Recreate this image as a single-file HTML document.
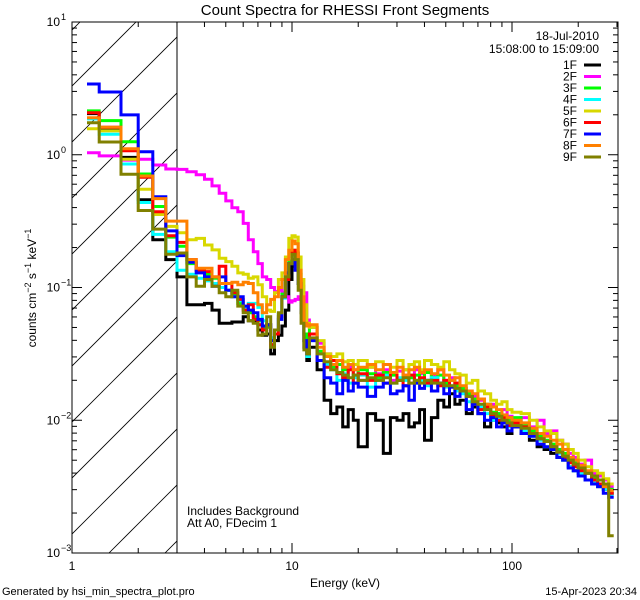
<!DOCTYPE html>
<html><head><meta charset="utf-8"><style>
body{margin:0;background:#fff;}
svg{display:block;font-family:"Liberation Sans",sans-serif;}
</style></head><body>
<svg id="chart" width="640" height="600" viewBox="0 0 640 600">
<defs><clipPath id="plotclip"><rect x="72" y="22" width="546" height="531"/></clipPath>
<clipPath id="hatchclip"><rect x="72" y="22" width="105" height="531"/></clipPath></defs>
<text x="345" y="15" text-anchor="middle" font-size="15">Count Spectra for RHESSI Front Segments</text>
<g id="hatch" clip-path="url(#hatchclip)"></g>
<line x1="177" y1="22" x2="177" y2="553" stroke="#000" stroke-width="1"/>
<g id="series" clip-path="url(#plotclip)"></g>
<rect x="72" y="22" width="546" height="531" fill="none" stroke="#000" stroke-width="1"/>
<g id="axes"></g>
<g id="legend"></g>
<text x="187" y="515" font-size="12">Includes Background</text>
<text x="187" y="527" font-size="12">Att A0, FDecim 1</text>
<text x="345" y="587" text-anchor="middle" font-size="12">Energy (keV)</text>
<text transform="translate(36,288) rotate(-90)" text-anchor="middle" font-size="12">counts cm<tspan dy="-5" font-size="9">−2</tspan><tspan dy="5"> s</tspan><tspan dy="-5" font-size="9">−1</tspan><tspan dy="5"> keV</tspan><tspan dy="-5" font-size="9">−1</tspan></text>
<text x="2" y="595" font-size="11">Generated by hsi_min_spectra_plot.pro</text>
<text x="637" y="595" text-anchor="end" font-size="11">15-Apr-2023 20:34</text>
</svg>
<script>
// Energy bin edges (keV)
const edges = [1.17,1.33,1.67,2.0,2.33,2.67,3.0,3.33,3.67,4.0,4.33,4.67,5.0,5.33,5.67,6.0,6.33,6.67,7.0,7.33,7.67,8.0,8.33,8.67,9.0,9.33,9.67,10.0,10.33,10.67,11.0,11.33,11.67,12.0,
13,14,15,16,17,18,19,20,22,24,26,28,30,32,34,36,38,40,43,46,49,52,55,58,62,66,70,75,80,85,90,95,100,110,120,130,140,150,160,170,180,190,200,215,230,245,260,275,290];
const seriesNames = ["1F","2F","3F","4F","5F","6F","7F","8F","9F"];
const seriesColors = ["#000000","#ff00ff","#00ff00","#00ffff","#d8d800","#ff0000","#0000ff","#ff8000","#808000"];
// log10 of counts per bin
const s1F = [.31,.20,-.02,-.339,-.64,-.79,
-.92,-1.13,-1.13,-1.12,-1.17,-1.27,-1.27,-1.26,-1.26,-1.22,-1.25,-1.26,-1.32,-1.36,-1.35,-1.50,-1.40,-1.36,-1.29,-1.17,-.94,-.79,-.84,-.97,-1.19,-1.45,-1.55,
-1.45,-1.62,-1.85,-1.95,-1.90,-2.05,-1.92,-2.00,-2.20,-1.95,
-2.00,-2.25,-1.98,-2.00,-1.95,-2.05,-2.02,-1.92,-2.15,-1.98,
-1.85,-1.90,-1.80,-1.88,-1.85,-1.95,-1.90,-1.95,-2.05,-2.00,
-2.02,-2.05,-2.10,-2.05,-2.10,-2.15,-2.20,-2.22,-2.25,-2.28,
-2.30,-2.35,-2.38,-2.40,-2.45,-2.47,-2.50,-2.52,-2.55];
const s2F = [.015,-.009,-.04,-.034,-.077,-.107,
-.11,-.128,-.15,-.185,-.235,-.29,-.348,-.40,-.43,-.517,-.64,-.73,-.82,-.92,-.94,-1.0,-1.03,-1.02,-1.04,-1.07,-1.11,-1.10,-1.09,-1.07,-.99,-1.04,-1.245,
-1.30,-1.42,-1.50,-1.55,-1.58,-1.66,-1.60,-1.62,-1.70,-1.60,
-1.65,-1.62,-1.70,-1.63,-1.66,-1.72,-1.62,-1.65,-1.70,-1.66,
-1.62,-1.70,-1.68,-1.72,-1.76,-1.80,-1.82,-1.85,-1.90,-1.88,
-1.95,-1.92,-1.97,-2.00,-1.98,-2.05,-2.00,-2.10,-2.08,-2.15,
-2.18,-2.25,-2.28,-2.33,-2.30,-2.40,-2.42,-2.45,-2.50];
const s3F = [.33,.257,.098,-.145,-.39,-.62,
-.69,-.82,-.87,-.90,-.93,-.97,-1.02,-1.06,-1.12,-1.15,-1.19,-1.22,-1.25,-1.30,-1.30,-1.38,-1.32,-1.20,-1.05,-.90,-.80,-.72,-.74,-.90,-1.10,-1.35,-1.45,
-1.30,-1.48,-1.52,-1.60,-1.58,-1.62,-1.58,-1.66,-1.62,-1.65,
-1.68,-1.64,-1.66,-1.70,-1.62,-1.68,-1.66,-1.70,-1.64,-1.68,
-1.66,-1.72,-1.70,-1.74,-1.76,-1.80,-1.84,-1.90,-1.88,-1.94,
-1.95,-1.98,-2.00,-1.98,-2.04,-2.08,-2.12,-2.15,-2.18,-2.22,
-2.25,-2.30,-2.32,-2.35,-2.40,-2.43,-2.45,-2.48,-2.52];
const s4F = [.27,.154,-.07,-.36,-.60,-.73,
-.87,-.90,-.93,-.95,-.97,-1.0,-1.02,-1.07,-1.10,-1.15,-1.12,-1.12,-1.15,-1.25,-1.28,-1.38,-1.32,-1.22,-1.08,-.92,-.82,-.76,-.80,-.95,-1.15,-1.40,-1.52,
-1.40,-1.50,-1.58,-1.62,-1.70,-1.65,-1.72,-1.68,-1.66,-1.75,
-1.70,-1.66,-1.72,-1.68,-1.70,-1.66,-1.72,-1.70,-1.74,-1.68,
-1.72,-1.75,-1.74,-1.78,-1.80,-1.86,-1.88,-1.90,-1.95,-2.00,
-1.98,-2.02,-2.05,-2.04,-2.08,-2.12,-2.15,-2.20,-2.22,-2.25,
-2.30,-2.35,-2.38,-2.40,-2.45,-2.47,-2.50,-2.52,-2.56];
const s5F = [.196,.18,-.034,-.26,-.45,-.54,
-.587,-.64,-.63,-.68,-.717,-.78,-.805,-.84,-.89,-.90,-.93,-.92,-.98,-1.07,-1.17,-1.18,-1.04,-.94,-.89,-.77,-.63,-.61,-.62,-.77,-.94,-1.13,-1.27,
-1.30,-1.40,-1.50,-1.52,-1.50,-1.56,-1.55,-1.58,-1.55,-1.60,
-1.56,-1.58,-1.60,-1.55,-1.62,-1.58,-1.56,-1.62,-1.55,-1.58,
-1.60,-1.56,-1.62,-1.65,-1.66,-1.72,-1.70,-1.78,-1.80,-1.85,
-1.88,-1.86,-1.92,-1.94,-1.95,-2.00,-2.05,-2.08,-2.10,-2.15,
-2.18,-2.22,-2.25,-2.30,-2.35,-2.38,-2.40,-2.44,-2.48];
const s6F = [.317,.207,.03,-.17,-.43,-.61,
-.66,-.79,-.87,-.88,-.92,-.84,-.97,-1.04,-1.09,-1.17,-1.13,-1.24,-1.28,-1.32,-1.28,-1.43,-1.35,-1.22,-1.07,-.94,-.82,-.72,-.74,-.94,-1.13,-1.40,-1.46,
-1.35,-1.55,-1.60,-1.55,-1.65,-1.68,-1.62,-1.72,-1.65,-1.70,
-1.66,-1.72,-1.64,-1.70,-1.74,-1.66,-1.70,-1.68,-1.72,-1.70,
-1.74,-1.70,-1.75,-1.72,-1.78,-1.82,-1.88,-1.92,-1.90,-1.96,
-2.00,-1.98,-2.04,-2.02,-2.05,-2.10,-2.14,-2.16,-2.20,-2.24,
-2.28,-2.32,-2.35,-2.38,-2.40,-2.45,-2.48,-2.50,-2.55];
const s7F = [.533,.473,.30,.023,-.316,-.574,
-.76,-.81,-.89,-.92,-.99,-.92,-1.02,-1.07,-1.07,-1.14,-1.17,-1.19,-1.24,-1.29,-1.28,-1.40,-1.32,-1.24,-1.07,-.89,-.82,-.79,-.87,-.97,-1.17,-1.40,-1.50,
-1.40,-1.55,-1.68,-1.72,-1.80,-1.70,-1.78,-1.72,-1.75,-1.82,
-1.75,-1.72,-1.80,-1.78,-1.74,-1.85,-1.72,-1.76,-1.70,-1.78,
-1.72,-1.80,-1.75,-1.82,-1.78,-1.92,-1.88,-1.95,-2.00,-1.98,
-2.05,-2.02,-2.08,-2.05,-2.10,-2.12,-2.18,-2.20,-2.22,-2.28,
-2.30,-2.36,-2.38,-2.42,-2.45,-2.48,-2.50,-2.55,-2.58];
const s8F = [.279,.207,.045,-.16,-.33,-.50,
-.50,-.79,-.855,-.855,-.92,-.97,-.97,-.96,-.98,-.96,-.97,-1.04,-1.13,-1.19,-1.13,-1.09,-1.07,-1.0,-.94,-.79,-.72,-.65,-.67,-.87,-1.07,-1.27,-1.29,
-1.28,-1.45,-1.52,-1.58,-1.55,-1.60,-1.58,-1.62,-1.60,-1.58,
-1.62,-1.58,-1.64,-1.60,-1.66,-1.62,-1.60,-1.64,-1.62,-1.65,
-1.62,-1.66,-1.70,-1.68,-1.74,-1.78,-1.80,-1.84,-1.88,-1.90,
-1.92,-1.96,-1.98,-2.00,-2.02,-2.06,-2.10,-2.12,-2.15,-2.18,
-2.22,-2.28,-2.30,-2.34,-2.38,-2.42,-2.45,-2.50,-2.53];
const s9F = [.241,.096,-.147,-.42,-.56,-.75,
-.74,-.92,-.99,-.94,-.99,-1.04,-1.07,-1.02,-1.14,-1.19,-1.25,-1.27,-1.36,-1.35,-1.22,-1.45,-1.32,-1.19,-1.07,-.92,-.82,-.75,-.79,-1.02,-1.27,-1.47,-1.50,
-1.38,-1.50,-1.56,-1.62,-1.64,-1.66,-1.68,-1.66,-1.70,-1.68,
-1.70,-1.68,-1.72,-1.70,-1.68,-1.72,-1.70,-1.72,-1.70,-1.72,
-1.72,-1.74,-1.74,-1.76,-1.78,-1.82,-1.86,-1.88,-1.92,-1.95,
-1.97,-2.00,-2.02,-2.04,-2.06,-2.10,-2.14,-2.16,-2.20,-2.24,
-2.27,-2.30,-2.33,-2.36,-2.40,-2.42,-2.45,-2.48,-2.87];
const allSeries = [s1F,s2F,s3F,s4F,s5F,s6F,s7F,s8F,s9F];
const xTickValues = [1,10,100];
const xTickLabels = ["1","10","100"];
const yTickExponents = [1,0,-1,-2,-3];

const NS = "http://www.w3.org/2000/svg";
const X0 = 72, XDEC = 220, YTOP = 22, YDEC = 132.75;
function xs(e){ return X0 + XDEC*Math.log10(e); }
function ys(lg){ return YTOP + (1 - lg)*YDEC; }
function mk(tag, attrs, parent){ const el=document.createElementNS(NS,tag); for(const k in attrs) el.setAttribute(k,attrs[k]); parent.appendChild(el); return el; }

// hatch
const hatch = document.getElementById('hatch');
for (let c = 46; c < 800; c += 56) {
  const ln = mk('line',{x1:c-600,y1:600,x2:c,y2:0,stroke:'#000','stroke-width':0.8},hatch);
  
  
}

// series
const sg = document.getElementById('series');
allSeries.forEach((vals, si) => {
  let d = '';
  for (let i = 0; i < vals.length; i++) {
    const xa = xs(edges[i]).toFixed(1), xb = xs(edges[i+1]).toFixed(1), y = ys(vals[i]).toFixed(1);
    d += (i === 0 ? 'M' : 'L') + xa + ',' + y + 'L' + xb + ',' + y;
  }
  const p = mk('path',{d:d,fill:'none',stroke:seriesColors[si],'stroke-width':3,'stroke-linejoin':'miter'},sg);
  
  
});

// axes
const ax = document.getElementById('axes');
for (let dec = 0; dec <= 2; dec++) {
  for (let m = 1; m <= 9; m++) {
    const e = m*Math.pow(10,dec); if (e > 300) break;
    const x = xs(e), len = m === 1 ? 10 : 5;
    const t1 = mk('line',{x1:x,y1:553,x2:x,y2:553-len,stroke:'#000'},ax);
    
    
    const t2 = mk('line',{x1:x,y1:22,x2:x,y2:22+len,stroke:'#000'},ax);
    
    
  }
}
xTickValues.forEach((v,i) => {
  const t = mk('text',{x:xs(v),y:570,'text-anchor':'middle','font-size':12},ax);
  t.textContent = xTickLabels[i];
  
  
});
for (let ex = -3; ex < 1; ex++) {
  for (let m = 1; m <= 9; m++) {
    const lg = ex + Math.log10(m), y = ys(lg), len = m === 1 ? 10 : 5;
    const t1 = mk('line',{x1:72,y1:y,x2:72+len,y2:y,stroke:'#000'},ax);
    
    
    const t2 = mk('line',{x1:618,y1:y,x2:618-len,y2:y,stroke:'#000'},ax);
    
    
  }
}
yTickExponents.forEach(ex => {
  const y = ys(ex);
  const t = mk('text',{x:60,y:y+4,'text-anchor':'end','font-size':12},ax);
  t.textContent = '10';
  
  
  const s = mk('text',{x:61,y:y-2,'font-size':9},ax);
  s.textContent = ex < 0 ? '−' + (-ex) : String(ex);
  
  
});
const y10 = ys(1);
const t10 = mk('line',{x1:72,y1:y10,x2:82,y2:y10,stroke:'#000'},ax);

// legend
const lg = document.getElementById('legend');
const d1 = mk('text',{x:599,y:40,'text-anchor':'end','font-size':12},lg);
d1.textContent = '18-Jul-2010';


const d2 = mk('text',{x:599,y:53,'text-anchor':'end','font-size':12},lg);
d2.textContent = '15:08:00 to 15:09:00';


seriesNames.forEach((n,i) => {
  const y = 65 + i*11.5;
  const t = mk('text',{x:577,y:y+4,'text-anchor':'end','font-size':12},lg);
  t.textContent = n;
  
  
  const l = mk('line',{x1:584,y1:y,x2:601,y2:y,stroke:seriesColors[i],'stroke-width':3},lg);
  
  
});
</script>
</body></html>
